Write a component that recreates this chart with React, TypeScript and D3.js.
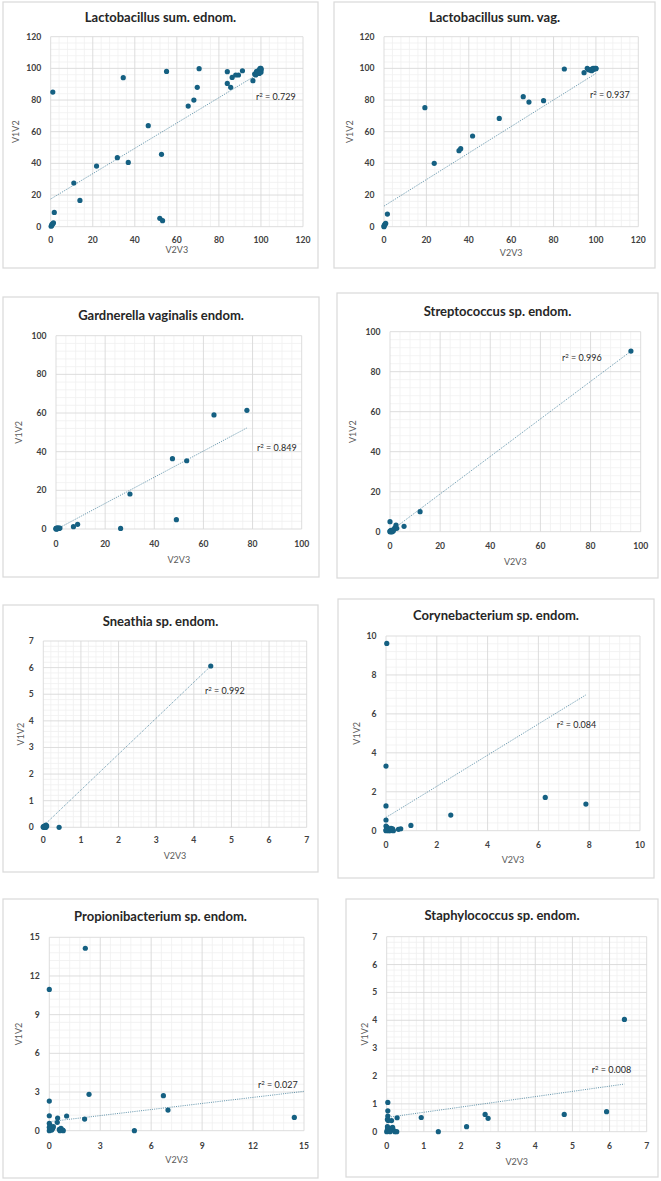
import React from "react";
import * as d3 from "d3";

// ---------- DATA ----------
const titles = [
  "Lactobacillus sum. ednom.",
  "Lactobacillus sum. vag.",
  "Gardnerella vaginalis endom.",
  "Streptococcus sp. endom.",
  "Sneathia sp. endom.",
  "Corynebacterium sp. endom.",
  "Propionibacterium sp. endom.",
  "Staphylococcus sp. endom.",
];

const xTitle = "V2V3";
const yTitle = "V1V2";

// axis maximum and major step per panel
const axisMax = [120, 120, 100, 100, 7, 10, 15, 7];
const axisStep = [20, 20, 20, 20, 1, 2, 3, 1];

const r2Labels = ["0.729", "0.937", "0.849", "0.996", "0.992", "0.084", "0.027", "0.008"];

// trendline: intercept, slope, x end (starts at x = 0)
const trendIntercept = [17.5, 13, -0.3, 0.1, 0.05, 0.68, 0.7, 0.51];
const trendSlope = [0.8, 0.838, 0.677, 0.938, 1.35, 0.8, 0.157, 0.1875];
const trendXEnd = [100, 100, 77.7, 96.1, 4.45, 7.87, 15, 6.4];

const lactEndom: [number, number][] = [
  [0.2, 0.3], [0.5, 0.8], [1, 1.8], [1.3, 2.5], [0.6, 1.5], [1.7, 9], [1, 85], [11, 27.6],
  [13.9, 16.6], [21.8, 38.3], [31.7, 43.6], [36.9, 40.6], [34.5, 94.1], [46.4, 63.8],
  [52.7, 45.7], [51.9, 5.3], [53.2, 3.8], [55.1, 98.1], [65.4, 76.2], [68.1, 80], [69.7, 88],
  [70.6, 99.8], [84, 97.9], [84, 90.5], [85.6, 88], [86.3, 94.3], [88, 95.8], [89.3, 95.8],
  [91.2, 98.5], [96.2, 92.2], [97, 96.4], [97.8, 97.9], [98.6, 98.5], [99.4, 99.4], [100, 100],
  [100, 98.9], [100, 97.6], [99.2, 96.8], [99.8, 98.5], [99.6, 100], [100, 99.4], [97.5, 95.8],
  [98.5, 97.2],
];

const lactVag: [number, number][] = [
  [0, 0], [0, 0.4], [0.5, 1.7], [0.2, 1], [0.8, 2.1], [1.6, 8], [19.3, 75.2], [23.7, 40],
  [35.4, 48], [36.2, 49.3], [41.8, 57.3], [54.4, 68.4], [65.7, 82.1], [68.4, 78.7],
  [75.3, 79.6], [85.1, 99.6], [94.4, 97.3], [95.9, 100], [97.2, 98.9], [98, 99.6],
  [98.7, 100], [99.5, 100], [100, 100], [98, 98.5], [99.1, 99.4], [100, 99.8], [96.5, 99.2],
];

const gardnerella: [number, number][] = [
  [0, 0], [0.1, 0.2], [0.3, 0.5], [0.5, 0.1], [0.8, 0.6], [1.2, 0.3], [1.6, 0.5], [0.2, 0],
  [0, 0.3], [7.1, 1.2], [8.8, 2.4], [26.3, 0.3], [30.1, 18.1], [47.4, 36.4], [49, 4.8],
  [53.2, 35.3], [64.3, 59], [77.7, 61.4],
];

const streptococcus: [number, number][] = [
  [0, 5], [0, 0], [0, 0.3], [0.2, 0], [0.4, 0.7], [0.8, 0], [1.3, 0.3], [1.6, 1.2], [2, 2],
  [2.4, 3.3], [2.7, 1.7], [0.7, 0], [1.1, 0.8], [5.6, 2.7], [12, 10], [96.1, 90.3],
];

const sneathia: [number, number][] = [
  [0, 0], [0.02, 0.03], [0.04, 0.05], [0.07, 0.08], [0.09, 0.05], [0.03, 0], [0.05, 0],
  [0, 0.03], [0.07, 0], [0.42, 0], [4.45, 6.06],
];

const corynebacterium: [number, number][] = [
  [0.03, 9.62], [0, 3.32], [0, 1.27], [0, 0.55], [0, 0.24], [0.03, 0.12], [0.05, 0.03],
  [0.09, 0], [0.13, 0.07], [0.16, 0], [0.22, 0.03], [0.26, 0.1], [0.29, 0], [0, 0],
  [0.05, 0.17], [0, 0.03], [0.2, 0.12], [0.49, 0.07], [0.58, 0.1], [0.98, 0.27],
  [2.55, 0.8], [6.27, 1.71], [7.87, 1.37],
];

const propionibacterium: [number, number][] = [
  [2.12, 14.15], [0, 10.96], [0, 2.3], [2.34, 2.82], [6.72, 2.72], [6.99, 1.6], [14.43, 1.03],
  [0, 1.16], [0.49, 0.98], [1.02, 1.14], [2.08, 0.9], [0.47, 0.65], [5.01, 0], [0, 0.57],
  [0.04, 0.31], [0.08, 0.18], [0, 0], [0.14, 0.05], [0.2, 0.18], [0.24, 0.31], [0.04, 0.44],
  [0.1, 0.1], [0, 0.26], [0.59, 0.1], [0.69, 0.18], [0.79, 0.05], [0.82, 0], [0.63, 0],
];

const staphylococcus: [number, number][] = [
  [6.4, 4.03], [5.92, 0.72], [4.78, 0.62], [2.65, 0.62], [2.73, 0.48], [2.15, 0.18], [1.39, 0],
  [0.93, 0.51], [0.28, 0.5], [0.03, 1.05], [0.03, 0.75], [0.03, 0.56], [0.02, 0.44],
  [0.04, 0.4], [0.13, 0.4], [0, 0], [0.02, 0.08], [0.04, 0.12], [0.07, 0.04], [0.11, 0.08],
  [0.13, 0.13], [0.18, 0.06], [0.22, 0], [0.27, 0], [0.02, 0.18], [0.09, 0], [0.16, 0.16],
];

const seriesList = [
  lactEndom, lactVag, gardnerella, streptococcus,
  sneathia, corynebacterium, propionibacterium, staphylococcus,
];

// ---------- LAYOUT ----------
type Layout = {
  box: [number, number, number, number];
  plot: [number, number, number, number]; // left, top, right, bottom
  titleY: number;
  tickY: number;
  xTitleY: number;
  yTitleX: number;
  r2: [number, number];
};

const layouts: Layout[] = [
  { box: [3, 2, 318, 268], plot: [50.7, 36.7, 303, 226.7], titleY: 17, tickY: 240, xTitleY: 249.5, yTitleX: 16, r2: [256, 97] },
  { box: [334, 2, 655, 268], plot: [384, 36.7, 638.3, 226.7], titleY: 17, tickY: 239.5, xTitleY: 253, yTitleX: 350, r2: [590, 95] },
  { box: [3, 297, 319, 577], plot: [56, 335.7, 301.7, 529], titleY: 315, tickY: 544, xTitleY: 560, yTitleX: 18.5, r2: [257, 447.7] },
  { box: [337, 293, 658, 578], plot: [390, 331.7, 640.7, 531.7], titleY: 311, tickY: 545.5, xTitleY: 561.5, yTitleX: 353, r2: [562, 358] },
  { box: [3, 605, 318, 872], plot: [43.3, 641, 306.7, 827.3], titleY: 621.7, tickY: 840, xTitleY: 856, yTitleX: 20.7, r2: [205, 690.7] },
  { box: [338, 599, 654, 878], plot: [386, 636, 640, 830.7], titleY: 615, tickY: 845, xTitleY: 860, yTitleX: 356.7, r2: [556.7, 725] },
  { box: [3, 899, 318, 1178], plot: [49.3, 937.3, 304, 1130.7], titleY: 916.7, tickY: 1145.5, xTitleY: 1159.3, yTitleX: 18.3, r2: [258, 1085] },
  { box: [346, 899, 658, 1177], plot: [386.7, 936.7, 646.7, 1131.7], titleY: 915, tickY: 1145.5, xTitleY: 1161.5, yTitleX: 365, r2: [591.7, 1070] },
];

const FONT = "Lato, 'Open Sans', sans-serif";
const MARK = "#156082";

function Panel({ i }: { i: number }) {
  const L = layouts[i];
  const [pl, pt, pr, pb] = L.plot;
  const max = axisMax[i];
  const step = axisStep[i];
  const x = d3.scaleLinear().domain([0, max]).range([pl, pr]);
  const y = d3.scaleLinear().domain([0, max]).range([pb, pt]);
  const major = d3.range(0, max + step / 2, step);
  const minorStep = step / 5;
  const minor = d3.range(0, max + minorStep / 2, minorStep).filter(
    (v) => Math.abs(v / step - Math.round(v / step)) > 1e-6
  );
  const pts = seriesList[i];
  const line = d3.line<number>().x((v) => x(v)).y((v) => y(trendIntercept[i] + trendSlope[i] * v));
  const [bx0, by0, bx1, by1] = L.box;
  const cx = (bx0 + bx1) / 2;
  const fmt = (v: number) => String(Math.round(v * 1000) / 1000);
  return (
    <g>
      <rect x={bx0} y={by0} width={bx1 - bx0} height={by1 - by0} fill="#fff" stroke="#d9d9d9" strokeWidth={1.2} />
      {/* minor grid */}
      {minor.map((v) => (
        <line key={"mx" + v} x1={x(v)} x2={x(v)} y1={pt} y2={pb} stroke="#f0f0f0" strokeWidth={0.8} />
      ))}
      {minor.map((v) => (
        <line key={"my" + v} x1={pl} x2={pr} y1={y(v)} y2={y(v)} stroke="#f0f0f0" strokeWidth={0.8} />
      ))}
      {/* major grid */}
      {major.map((v) => (
        <line key={"Mx" + v} x1={x(v)} x2={x(v)} y1={pt} y2={pb} stroke="#d9d9d9" strokeWidth={0.9} />
      ))}
      {major.map((v) => (
        <line key={"My" + v} x1={pl} x2={pr} y1={y(v)} y2={y(v)} stroke="#d9d9d9" strokeWidth={0.9} />
      ))}
      {/* tick labels */}
      {major.map((v) => (
        <text key={"tx" + v} x={x(v)} y={L.tickY + 3} textAnchor="middle" fontFamily={FONT} fontWeight={700} fontSize={8.6} fill="#404040">
          {fmt(v)}
        </text>
      ))}
      {major.map((v) => (
        <text key={"ty" + v} x={pl - 9.5} y={y(v) + 3} textAnchor="end" fontFamily={FONT} fontWeight={700} fontSize={8.6} fill="#404040">
          {fmt(v)}
        </text>
      ))}
      {/* trendline */}
      <path d={line([0, trendXEnd[i]]) || ""} fill="none" stroke={MARK} strokeOpacity={0.75} strokeWidth={0.9} strokeDasharray="1 1.2" />
      {/* points */}
      {pts.map((p, k) => (
        <circle key={k} cx={x(p[0])} cy={y(p[1])} r={2.6} fill={MARK} />
      ))}
      {/* title */}
      <text x={cx} y={L.titleY + 4.6} textAnchor="middle" fontFamily={FONT} fontWeight={700} fontSize={13} fill="#262626">
        {titles[i]}
      </text>
      {/* axis titles */}
      <text x={(pl + pr) / 2} y={L.xTitleY + 3.2} textAnchor="middle" fontFamily={FONT} fontSize={9} fill="#595959">
        {xTitle}
      </text>
      <text
        transform={`translate(${L.yTitleX + 3.2},${(pt + pb) / 2}) rotate(-90)`}
        textAnchor="middle"
        fontFamily={FONT}
        fontSize={9}
        fill="#595959"
      >
        {yTitle}
      </text>
      {/* r2 label */}
      <text x={L.r2[0]} y={L.r2[1] + 3.2} fontFamily={FONT} fontSize={9} fill="#262626">
        <tspan>r</tspan>
        <tspan dy={-3.2} fontSize={6}>2</tspan>
        <tspan dy={3.2}>{" = " + r2Labels[i]}</tspan>
      </text>
    </g>
  );
}

export default function App() {
  return (
    <svg
      width={661}
      height={1181}
      viewBox="0 0 661 1181"
      style={{ position: "absolute", left: 0, top: 0, display: "block", background: "#fff" }}
    >
      <rect x={0} y={0} width={661} height={1181} fill="#fff" />
      {titles.map((_, i) => (
        <Panel key={i} i={i} />
      ))}
    </svg>
  );
}
